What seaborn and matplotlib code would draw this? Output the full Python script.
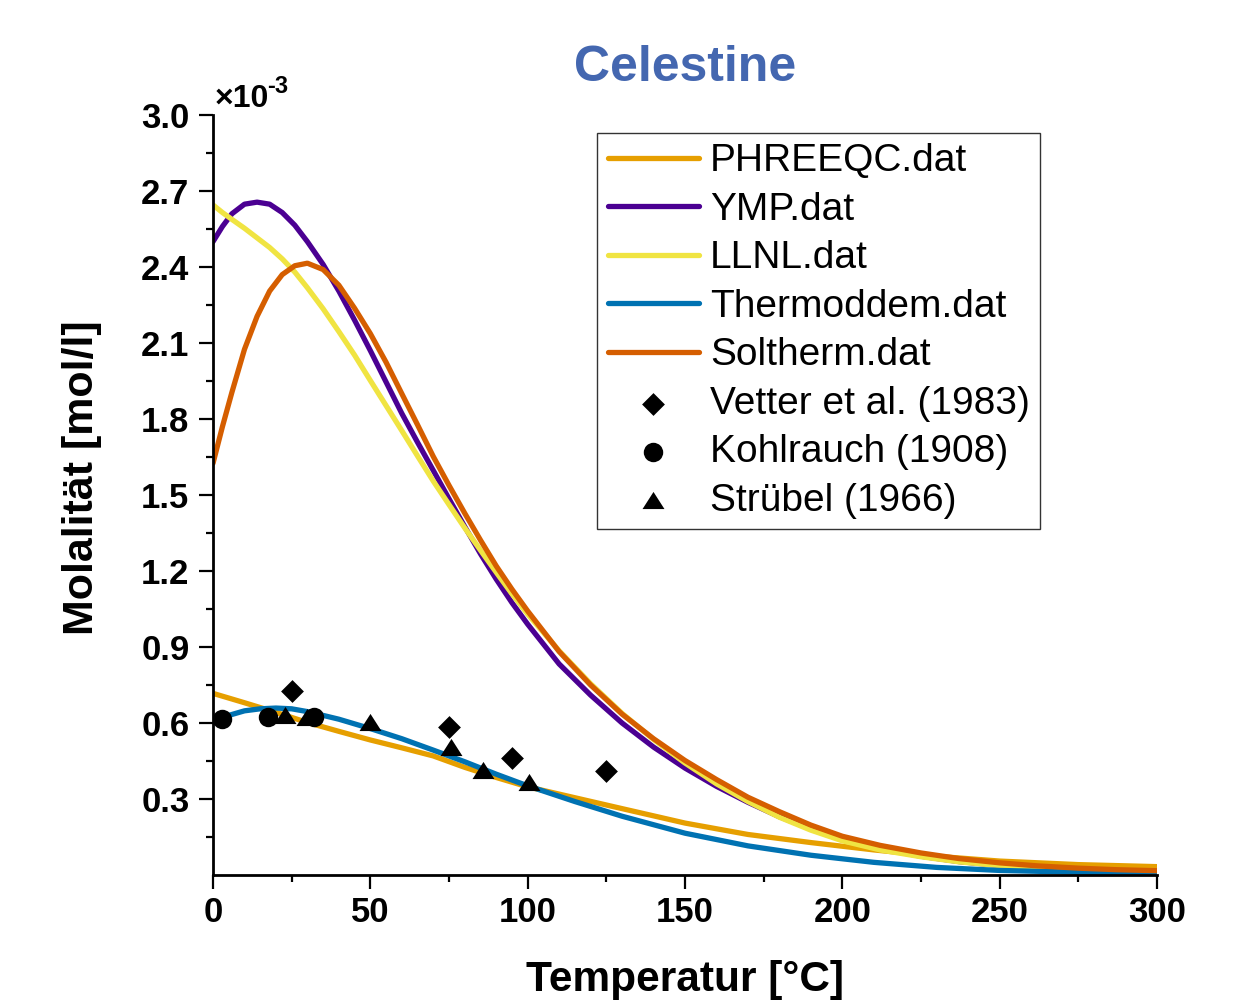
import numpy as np
import pandas as pd
import matplotlib
matplotlib.use("Agg")
import matplotlib.pyplot as plt
from matplotlib.path import Path
from matplotlib.ticker import MultipleLocator, FixedLocator
import seaborn as sns

# ---------------- data (molality in units of 1e-3 mol/l) ----------------
T_upper = [0, 3, 6, 10, 14, 18, 22, 26, 30, 35, 40, 45, 50, 55, 60, 65, 70, 75, 80, 85,
           90, 95, 100, 110, 120, 130, 140, 150, 160, 170, 180, 190, 200, 212, 225, 237,
           250, 262, 275, 287, 300]
ymp = [2.50, 2.56, 2.61, 2.648, 2.656, 2.648, 2.615, 2.565, 2.50, 2.41, 2.305, 2.19, 2.07,
       1.946, 1.822, 1.708, 1.597, 1.485, 1.375, 1.268, 1.168, 1.075, 0.99, 0.833, 0.71,
       0.60, 0.505, 0.422, 0.35, 0.287, 0.23, 0.182, 0.142, 0.104, 0.074, 0.053, 0.038,
       0.027, 0.02, 0.015, 0.012]
llnl = [2.645, 2.615, 2.588, 2.553, 2.515, 2.477, 2.432, 2.38, 2.318, 2.235, 2.145, 2.052,
        1.952, 1.853, 1.754, 1.654, 1.555, 1.462, 1.37, 1.282, 1.195, 1.11, 1.03, 0.885,
        0.755, 0.638, 0.535, 0.442, 0.36, 0.29, 0.228, 0.177, 0.135, 0.099, 0.072, 0.052,
        0.037, 0.027, 0.02, 0.016, 0.013]
soltherm = [1.625, 1.77, 1.905, 2.075, 2.205, 2.305, 2.37, 2.405, 2.415, 2.39, 2.328, 2.237,
            2.137, 2.024, 1.90, 1.777, 1.652, 1.538, 1.428, 1.322, 1.22, 1.128, 1.042, 0.882,
            0.75, 0.635, 0.538, 0.452, 0.377, 0.307, 0.25, 0.197, 0.153, 0.117, 0.087, 0.065,
            0.048, 0.036, 0.027, 0.021, 0.017]

T_phreeqc = [0, 10, 20, 30, 40, 50, 60, 70, 80, 90, 100, 115, 130, 150, 170, 190, 210, 230,
             250, 275, 300]
phreeqc = [0.717, 0.68, 0.642, 0.602, 0.567, 0.533, 0.502, 0.47, 0.425, 0.385, 0.348, 0.305,
           0.262, 0.205, 0.16, 0.128, 0.099, 0.074, 0.055, 0.041, 0.033]

T_thermo = [0, 5, 10, 15, 20, 25, 30, 40, 50, 60, 70, 80, 90, 100, 115, 130, 150, 170, 190,
            210, 230, 250, 275, 300]
thermoddem = [0.60, 0.63, 0.648, 0.656, 0.659, 0.656, 0.645, 0.615, 0.578, 0.538, 0.493,
              0.447, 0.398, 0.352, 0.29, 0.232, 0.165, 0.115, 0.078, 0.05, 0.03, 0.018,
              0.011, 0.008]

vetter_T = [25, 75, 95, 125]
vetter_m = [0.728, 0.583, 0.461, 0.412]
kohl_T = [3, 17.5, 32]
kohl_m = [0.616, 0.624, 0.624]
strub_T = [23, 30, 50, 75.5, 85.7, 100.5]
strub_m = [0.63, 0.625, 0.605, 0.504, 0.415, 0.368]

series_names = ["PHREEQC.dat", "YMP.dat", "LLNL.dat", "Thermoddem.dat", "Soltherm.dat"]
series_colors = ["#E69F00", "#4B0092", "#F0E442", "#0072B2", "#D55E00"]
point_names = ["Vetter et al. (1983)", "Kohlrauch (1908)", "Strübel (1966)"]

y_ticks = [0.3, 0.6, 0.9, 1.2, 1.5, 1.8, 2.1, 2.4, 2.7, 3.0]
x_ticks = [0, 50, 100, 150, 200, 250, 300]

# ---------------- style ----------------
sns.set_style("ticks")
plt.rcParams["font.family"] = ["Liberation Sans", "DejaVu Sans"]
plt.rcParams["text.color"] = "black"
plt.rcParams["axes.labelcolor"] = "black"
plt.rcParams["xtick.color"] = "black"
plt.rcParams["ytick.color"] = "black"

fig = plt.figure(figsize=(12.33, 10), dpi=100)
ax = fig.add_axes([213 / 1233, 0.125, 944 / 1233, 0.76])

curves = [(T_phreeqc, phreeqc), (T_upper, ymp), (T_upper, llnl), (T_thermo, thermoddem),
          (T_upper, soltherm)]
for (tx, ty), name, col in zip(curves, series_names, series_colors):
    df = pd.DataFrame({"T": tx, "m": ty})
    sns.lineplot(data=df, x="T", y="m", ax=ax, color=col, lw=3.8, label=name,
                 estimator=None, sort=False)
for ln in ax.get_lines():
    ln.set_solid_joinstyle("round")

tri = Path([(-1.0, -0.78), (1.0, -0.78), (0.0, 0.78), (-1.0, -0.78)],
           [Path.MOVETO, Path.LINETO, Path.LINETO, Path.CLOSEPOLY])
pts = [(vetter_T, vetter_m, "D", 135), (kohl_T, kohl_m, "o", 196), (strub_T, strub_m, tri, 250)]
for (tx, ty, mk, sz), name in zip(pts, point_names):
    df = pd.DataFrame({"T": tx, "m": ty})
    sns.scatterplot(data=df, x="T", y="m", ax=ax, color="black", marker=mk, s=sz,
                    linewidth=0, label=name, zorder=5)

# ---------------- axes ----------------
ax.set_xlim(0, 300)
ax.set_ylim(0, 3.0)
ax.xaxis.set_major_locator(FixedLocator(x_ticks))
ax.xaxis.set_minor_locator(MultipleLocator(25))
ax.yaxis.set_major_locator(FixedLocator(y_ticks))
ax.yaxis.set_minor_locator(FixedLocator([0.15 + 0.3 * i for i in range(10)]))
ax.set_xticklabels([str(v) for v in x_ticks])
ax.set_yticklabels([f"{v:.1f}" for v in y_ticks])
for lab in ax.get_xticklabels() + ax.get_yticklabels():
    lab.set_fontweight("bold")
    lab.set_color("black")
ax.tick_params(axis="both", which="major", direction="out", length=10, width=1.6,
               labelsize=25, color="black")
ax.tick_params(axis="both", which="minor", direction="out", length=5, width=1.6,
               color="black")
ax.tick_params(axis="x", which="major", pad=5)
ax.tick_params(axis="y", which="major", pad=7)
sns.despine(ax=ax)
for sp in ["left", "bottom"]:
    ax.spines[sp].set_linewidth(2.0)
    ax.spines[sp].set_color("black")

ax.set_xlabel("Temperatur [°C]", fontsize=30.5, fontweight="bold", color="black")
ax.xaxis.set_label_coords(0.5, (875 - 991) / 760)
ax.xaxis.label.set_verticalalignment("baseline")
ax.set_ylabel("Molalität [mol/l]", fontsize=31, fontweight="bold", color="black")
ax.yaxis.set_label_coords((82 - 213) / 944, (875 - 478) / 760)
ax.yaxis.label.set_verticalalignment("center")

fig.text(215 / 1233, 1 - 107 / 1000, "×10", fontsize=23, fontweight="bold",
         va="baseline", ha="left")
fig.text(267 / 1233, 1 - 93 / 1000, "-3", fontsize=17, fontweight="bold",
         va="baseline", ha="left")

fig.text(685 / 1233, 1 - 68 / 1000, "Celestine", fontsize=36, fontweight="bold",
         color="#4467B0", ha="center", va="center")

handles, labels = ax.get_legend_handles_labels()
leg = ax.legend(handles, labels, loc="upper left",
                bbox_to_anchor=((597 - 213) / 944, (875 - 133) / 760),
                borderaxespad=0, fontsize=28, handlelength=2.35, handletextpad=0.28,
                labelspacing=0.32, borderpad=0.27, frameon=True, fancybox=False,
                framealpha=1)
leg.get_frame().set_edgecolor("#333333")
leg.get_frame().set_linewidth(1.0)
for t in leg.get_texts():
    t.set_color("black")

fig.savefig("out.png", dpi=100)
